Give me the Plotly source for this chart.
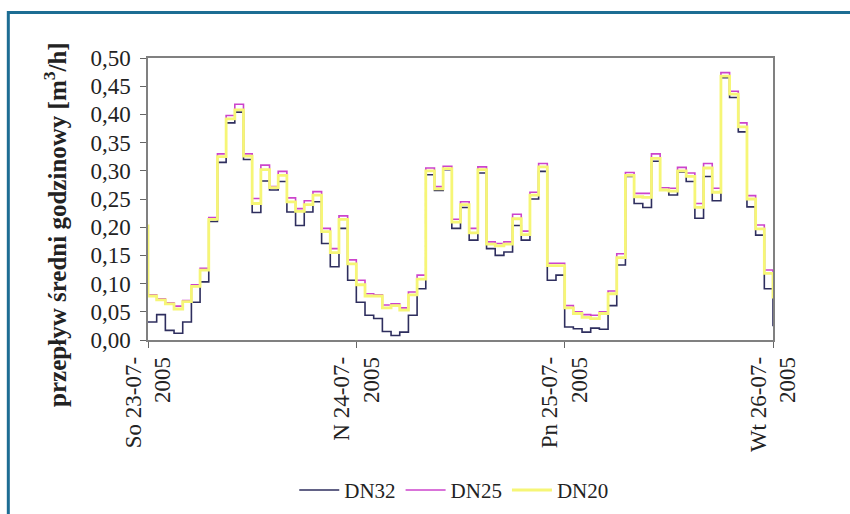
import plotly.graph_objects as go

# hourly timestamps (hours from So 23-07-2005 00:00); step values hold over each hour
hours = list(range(0, 74))

tick_hours = [0, 24, 48, 72]
tick_labels = ["So 23-07-<br>2005", "N 24-07-<br>2005", "Pn 25-07-<br>2005", "Wt 26-07-<br>2005"]

dn32 = [0.032,
        0.032, 0.045, 0.017, 0.012, 0.032, 0.067, 0.103, 0.210, 0.315, 0.385, 0.404, 0.320,
        0.226, 0.282, 0.266, 0.281, 0.227, 0.203, 0.227, 0.245, 0.171, 0.130, 0.198, 0.106,
        0.067, 0.044, 0.038, 0.015, 0.008, 0.014, 0.044, 0.091, 0.293, 0.265, 0.302, 0.198,
        0.235, 0.177, 0.296, 0.162, 0.150, 0.156, 0.203, 0.177, 0.250, 0.299, 0.106, 0.115,
        0.023, 0.020, 0.014, 0.021, 0.019, 0.061, 0.133, 0.290, 0.242, 0.235, 0.317, 0.266,
        0.257, 0.298, 0.281, 0.216, 0.290, 0.247, 0.465, 0.430, 0.369, 0.236, 0.186, 0.091,
        0.026]

dn25 = [0.080,
        0.080, 0.073, 0.066, 0.060, 0.070, 0.098, 0.127, 0.217, 0.330, 0.398, 0.418, 0.330,
        0.251, 0.310, 0.272, 0.299, 0.252, 0.233, 0.247, 0.263, 0.198, 0.162, 0.220, 0.142,
        0.106, 0.082, 0.080, 0.062, 0.064, 0.057, 0.085, 0.115, 0.305, 0.272, 0.308, 0.214,
        0.245, 0.198, 0.307, 0.174, 0.171, 0.174, 0.223, 0.193, 0.262, 0.313, 0.136, 0.136,
        0.061, 0.050, 0.045, 0.044, 0.050, 0.087, 0.153, 0.297, 0.260, 0.260, 0.330, 0.270,
        0.269, 0.306, 0.296, 0.242, 0.313, 0.269, 0.474, 0.441, 0.385, 0.256, 0.204, 0.124,
        0.078]

dn20 = [0.205,
        0.078, 0.071, 0.064, 0.055, 0.068, 0.095, 0.124, 0.214, 0.325, 0.392, 0.408, 0.326,
        0.242, 0.302, 0.270, 0.292, 0.245, 0.228, 0.240, 0.257, 0.192, 0.155, 0.214, 0.135,
        0.098, 0.078, 0.078, 0.057, 0.061, 0.053, 0.080, 0.108, 0.300, 0.268, 0.304, 0.209,
        0.240, 0.190, 0.302, 0.170, 0.167, 0.170, 0.215, 0.187, 0.257, 0.307, 0.132, 0.132,
        0.057, 0.047, 0.040, 0.038, 0.047, 0.082, 0.146, 0.292, 0.254, 0.253, 0.322, 0.266,
        0.264, 0.300, 0.290, 0.235, 0.305, 0.262, 0.468, 0.436, 0.378, 0.250, 0.197, 0.118,
        0.076]

series = [("DN32", dn32, "#2e2e5e", 1.6),
          ("DN25", dn25, "#cc44cc", 1.6),
          ("DN20", dn20, "#f6f676", 2.8)]

SERIF = "Liberation Serif"

fig = go.Figure()
for name, vals, color, w in series:
    fig.add_trace(go.Scatter(x=hours, y=vals, name=name, mode="lines",
                             line=dict(color=color, width=w, shape="vh")))

fig.update_layout(
    width=850, height=514,
    margin=dict(l=148, r=77, t=58, b=174, autoexpand=False),
    paper_bgcolor="white", plot_bgcolor="white",
    separators=", ",
    showlegend=True,
    legend=dict(orientation="h", x=0.49, xanchor="center",
                yref="container", y=0.046, yanchor="middle",
                font=dict(family=SERIF, size=21, color="#222"),
                itemwidth=40, tracegroupgap=0, bgcolor="rgba(0,0,0,0)"),
    font=dict(family=SERIF, color="#222"),
)

fig.update_xaxes(range=[0, 72], tickmode="array", tickvals=tick_hours, ticktext=tick_labels,
                 tickangle=-90, ticks="outside", ticklen=6, tickcolor="#666",
                 showline=True, linecolor="#808080", linewidth=1.5, mirror=True,
                 showgrid=False, zeroline=False, automargin=False,
                 tickfont=dict(family=SERIF, size=23, color="#222"))
fig.update_yaxes(range=[0, 0.5], dtick=0.05, tickformat=".2f",
                 ticks="outside", ticklen=6, tickcolor="#666", ticklabelstandoff=5,
                 showline=True, linecolor="#808080", linewidth=1.5, mirror=True,
                 showgrid=False, zeroline=False, automargin=False,
                 tickfont=dict(family=SERIF, size=23, color="#222"))

fig.add_annotation(text="<b>przepływ średni godzinowy [m<sup>3</sup>/h]</b>",
                   xref="paper", yref="paper", x=-0.148, y=0.41,
                   xanchor="center", yanchor="middle", textangle=-90, showarrow=False,
                   font=dict(family=SERIF, size=25, color="#222"))

# outer frame
fig.add_shape(type="rect", xref="paper", yref="paper",
              x0=-0.2235, x1=1.3, y0=-0.9, y1=1.1616,
              line=dict(color="#1d6d93", width=3), fillcolor="rgba(0,0,0,0)", layer="below")

fig.write_html("out.html", config={"displayModeBar": False},
               post_script="document.body.style.margin='0';")
